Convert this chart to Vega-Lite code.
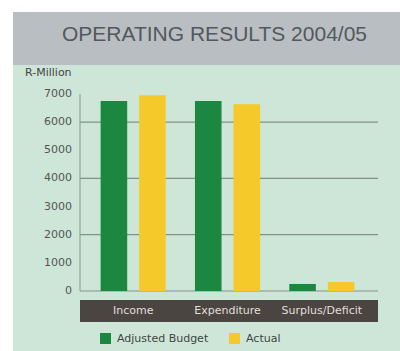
{
  "$schema": "https://vega.github.io/schema/vega-lite/v6.json",
  "background": "#ffffff",
  "padding": {"left": 13, "top": 12, "right": 0, "bottom": 0},
  "spacing": 0,
  "bounds": "flush",
  "config": {"view": {"stroke": null}, "font": "DejaVu Sans"},
  "vconcat": [
    {
      "width": 387,
      "height": 53,
      "view": {"fill": "#b9bec3", "stroke": null},
      "data": {"values": [{"title": "OPERATING RESULTS 2004/05"}]},
      "mark": {"type": "text", "font": "Liberation Sans", "fontSize": 21, "color": "#54585c", "baseline": "alphabetic", "dx": 8, "dy": 2},
      "encoding": {"text": {"field": "title"}}
    },
    {
      "width": 387,
      "height": 286,
      "view": {"fill": "#cde6d8", "stroke": null},
      "title": {
        "text": "R-Million", "orient": "top", "anchor": "start", "frame": "group",
        "offset": 0, "dx": 12, "dy": 19, "baseline": "middle",
        "fontSize": 11, "fontWeight": "normal", "color": "#444444", "font": "DejaVu Sans"
      },
      "layer": [
        {
          "layer": [
            {
              "data": {"values": [{"v": 0}, {"v": 2000}, {"v": 4000}, {"v": 6000}]},
              "mark": {"type": "rule", "color": "#849187", "strokeWidth": 1.2},
              "encoding": {
                "x": {"datum": 0, "type": "quantitative", "scale": {"domain": [0, 1], "range": [67, 365]}, "axis": null},
                "x2": {"datum": 1},
                "y": {"field": "v", "type": "quantitative", "scale": {"domain": [0, 7000], "range": [226, 29]}, "axis": null}
              }
            },
            {
              "data": {"values": [{"axis": "y"}]},
              "mark": {"type": "rule", "color": "#8a958d", "strokeWidth": 1},
              "encoding": {
                "x": {"datum": 0, "type": "quantitative", "axis": null},
                "y": {"datum": 0, "type": "quantitative", "axis": null},
                "y2": {"datum": 7000}
              }
            },
            {
              "data": {"values": [{"tick": 0}, {"tick": 1000}, {"tick": 2000}, {"tick": 3000}, {"tick": 4000}, {"tick": 5000}, {"tick": 6000}, {"tick": 7000}]},
              "mark": {"type": "text", "align": "right", "baseline": "middle", "dx": -8, "fontSize": 11, "color": "#555555", "font": "DejaVu Sans"},
              "encoding": {
                "x": {"datum": 0, "type": "quantitative", "axis": null},
                "y": {"field": "tick", "type": "quantitative", "axis": null},
                "text": {"field": "tick", "type": "quantitative", "format": "d"}
              }
            },
            {
              "data": {"values": [{"band": "categories"}]},
              "mark": {"type": "rect", "color": "#4a4541"},
              "encoding": {
                "x": {"datum": 0, "type": "quantitative", "axis": null},
                "x2": {"datum": 1},
                "y": {"datum": -320, "type": "quantitative", "axis": null},
                "y2": {"datum": -1100}
              }
            }
          ]
        },
        {
          "layer": [
            {
              "data": {"values": [
                {"category": "Income", "series": "Adjusted Budget", "value": 6750},
                {"category": "Income", "series": "Actual", "value": 6960},
                {"category": "Expenditure", "series": "Adjusted Budget", "value": 6750},
                {"category": "Expenditure", "series": "Actual", "value": 6640},
                {"category": "Surplus/Deficit", "series": "Adjusted Budget", "value": 250},
                {"category": "Surplus/Deficit", "series": "Actual", "value": 320}
              ]},
              "mark": {"type": "bar"},
              "encoding": {
                "x": {
                  "field": "category", "type": "nominal",
                  "sort": ["Income", "Expenditure", "Surplus/Deficit"],
                  "scale": {"domain": ["Income", "Expenditure", "Surplus/Deficit"], "range": [73, 356], "paddingInner": 0, "paddingOuter": 0},
                  "axis": null
                },
                "xOffset": {
                  "field": "series", "type": "nominal", "sort": ["Adjusted Budget", "Actual"],
                  "scale": {"paddingInner": 0.31, "paddingOuter": 0.38}
                },
                "y": {"field": "value", "type": "quantitative", "axis": null},
                "color": {
                  "field": "series", "type": "nominal",
                  "scale": {"domain": ["Adjusted Budget", "Actual"], "range": ["#1b8741", "#f6c92a"]},
                  "legend": {
                    "orient": "none", "legendX": 87, "legendY": 321, "direction": "horizontal",
                    "title": null, "symbolType": "square", "symbolSize": 121, "symbolStrokeWidth": 0,
                    "symbolOpacity": 1, "labelFontSize": 11, "labelColor": "#444444", "labelFont": "DejaVu Sans",
                    "columnPadding": 20, "labelOffset": 6
                  }
                }
              }
            },
            {
              "data": {"values": [{"category": "Income"}, {"category": "Expenditure"}, {"category": "Surplus/Deficit"}]},
              "mark": {"type": "text", "baseline": "middle", "fontSize": 11, "color": "#e2dfda", "font": "DejaVu Sans"},
              "encoding": {
                "x": {"field": "category", "type": "nominal", "axis": null},
                "y": {"datum": -710, "type": "quantitative", "axis": null},
                "text": {"field": "category"}
              }
            }
          ]
        }
      ],
      "resolve": {"scale": {"x": "independent"}}
    }
  ]
}
